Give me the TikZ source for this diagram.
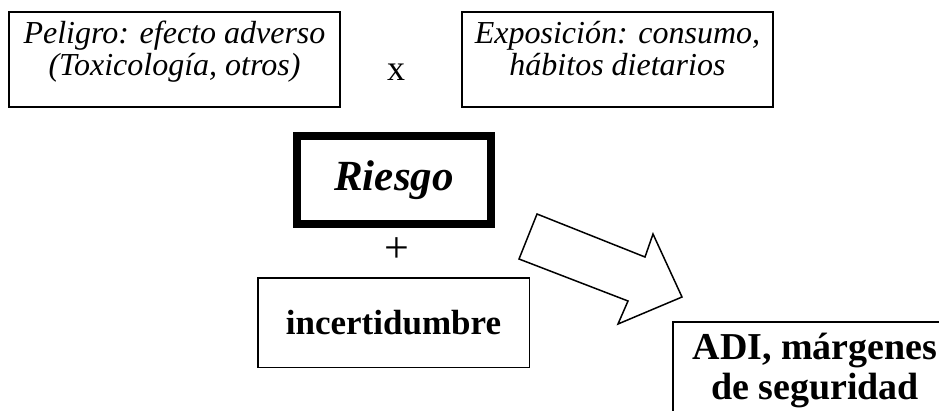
\documentclass[tikz,border=0pt]{standalone}
\usepackage{fontspec}
\setmainfont{Liberation Serif}
\usetikzlibrary{positioning}

\tikzset{
	caja/.style={draw, line width=1.5pt, align=center, inner sep=0pt},
	cajagruesa/.style={draw, line width=8pt, inner sep=0pt},
	cursiva/.style={font=\fontsize{32}{32}\selectfont\itshape},
}

\begin{document}
\begin{tikzpicture}[x=1pt, y=-1pt]

	\def\yTop{59.5}
	\def\xMid{394}

	\clip (0,0) rectangle (939,410);

	% Peligro x Exposicion
	\node[caja, cursiva, minimum width=331, minimum height=95, text depth=23]
		(peligro) at (174.5, \yTop)
		{Peligro: efecto adverso\\(Toxicología, otros)};
	\node[caja, cursiva, minimum width=311, minimum height=95, text depth=23]
		(exposicion) at (617.5, \yTop)
		{Exposición: consumo,\\hábitos dietarios};
	\node[font=\fontsize{36}{36}\selectfont] (por) at (396, 72) {x};

	% Riesgo
	\node[cajagruesa, minimum width=194, minimum height=88,
		font=\fontsize{43}{43}\selectfont\bfseries\itshape]
		(riesgo) at (\xMid, 180) {Riesgo};
	\node[font=\fontsize{44}{44}\selectfont] (mas) at (397, 250) {+};

	% incertidumbre
	\node[caja, minimum width=271.5, minimum height=89.5,
		font=\fontsize{35}{35}\selectfont\bfseries]
		(incertidumbre) at (393.5, 322.5) {incertidumbre};

	% ADI
	\node[caja, minimum width=284, minimum height=96,
		font=\fontsize{38}{40}\selectfont\bfseries]
		(adi) at (815, 370) {ADI, márgenes\\de seguridad};

	% flecha
	\draw[line width=1.5pt, fill=white]
		(537, 214) -- (645, 257) -- (653, 234) -- (682, 297)
		-- (618, 324) -- (628, 301) -- (519, 259) -- cycle;

\end{tikzpicture}
\end{document}
